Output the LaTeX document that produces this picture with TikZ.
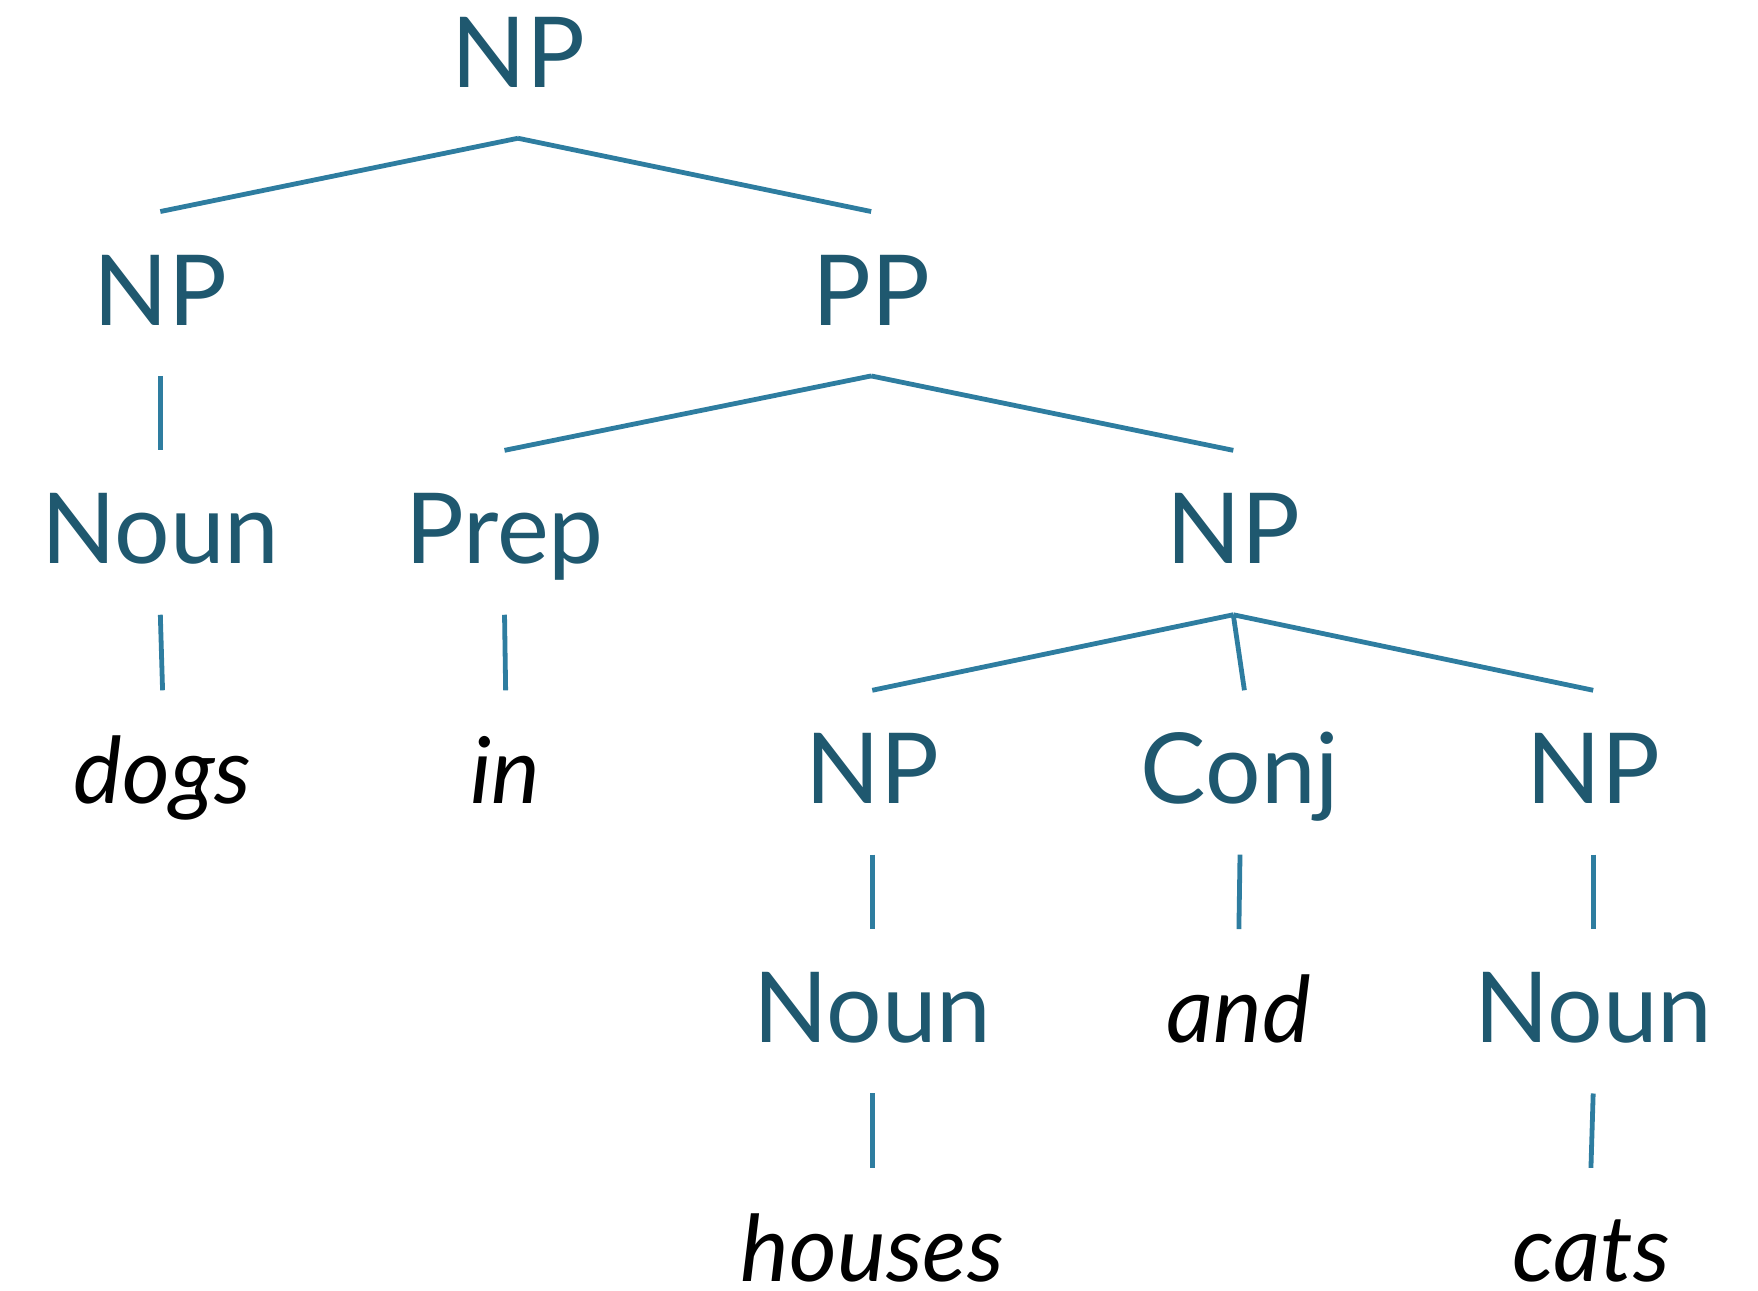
\documentclass[tikz,border=0pt]{standalone}
\usepackage{fontspec}
\setmainfont{Lato}
\definecolor{labelc}{HTML}{1F586F}
\definecolor{linec}{HTML}{2E7DA0}
\begin{document}
\begin{tikzpicture}[x=0.5606pt,y=-0.5606pt,
  lab/.style={anchor=base,inner sep=0pt,text height=56.6pt,text depth=25.2pt,
    font=\fontsize{49}{49}\selectfont,text=labelc},
  word/.style={lab,text=black,font=\fontsize{46}{46}\selectfont\itshape},
  lastword/.style={word,text depth=2pt},
  edge/.style={draw=linec,line width=2.4pt}]
\useasboundingbox (0,0) rectangle (1568,1151);
% row 1
\node[lab] (np0) at (462,78) {NP};
% row 2
\node[lab] (np1) at (143,290) {NP};
\node[lab] (pp) at (777,290) {PP};
% row 3
\node[lab] (noun1) at (143,503) {Noun};
\node[lab] (prep) at (450,503) {Prep};
\node[lab] (np2) at (1100,503) {NP};
% row 4
\node[word] (dogs) at (145,717) {dogs};
\node[word] (in) at (451,717) {in};
\node[lab] (np3) at (778,717) {NP};
\node[lab] (conj) at (1106,717) {Conj};
\node[lab] (np4) at (1421,717) {NP};
% row 5
\node[lab] (noun2) at (778,930) {Noun};
\node[word] (and) at (1105,930) {and};
\node[lab] (noun3) at (1421,930) {Noun};
% row 6
\node[lastword] (houses) at (778,1143) {houses};
\node[lastword] (cats) at (1419,1143) {cats};
% edges
\draw[edge] (np0.south) -- (np1.north);
\draw[edge] (np0.south) -- (pp.north);
\draw[edge] (np1.south) -- (noun1.north);
\draw[edge] (pp.south) -- (prep.north);
\draw[edge] (pp.south) -- (np2.north);
\draw[edge] (noun1.south) -- (dogs.north);
\draw[edge] (prep.south) -- (in.north);
\draw[edge] (np2.south) -- (np3.north);
\draw[edge] (np2.south) -- ([xshift=2.2pt]conj.north);
\draw[edge] (np2.south) -- (np4.north);
\draw[edge] (np3.south) -- (noun2.north);
\draw[edge] (conj.south) -- (and.north);
\draw[edge] (np4.south) -- (noun3.north);
\draw[edge] (noun2.south) -- (houses.north);
\draw[edge] (noun3.south) -- (cats.north);
\end{tikzpicture}
\end{document}
